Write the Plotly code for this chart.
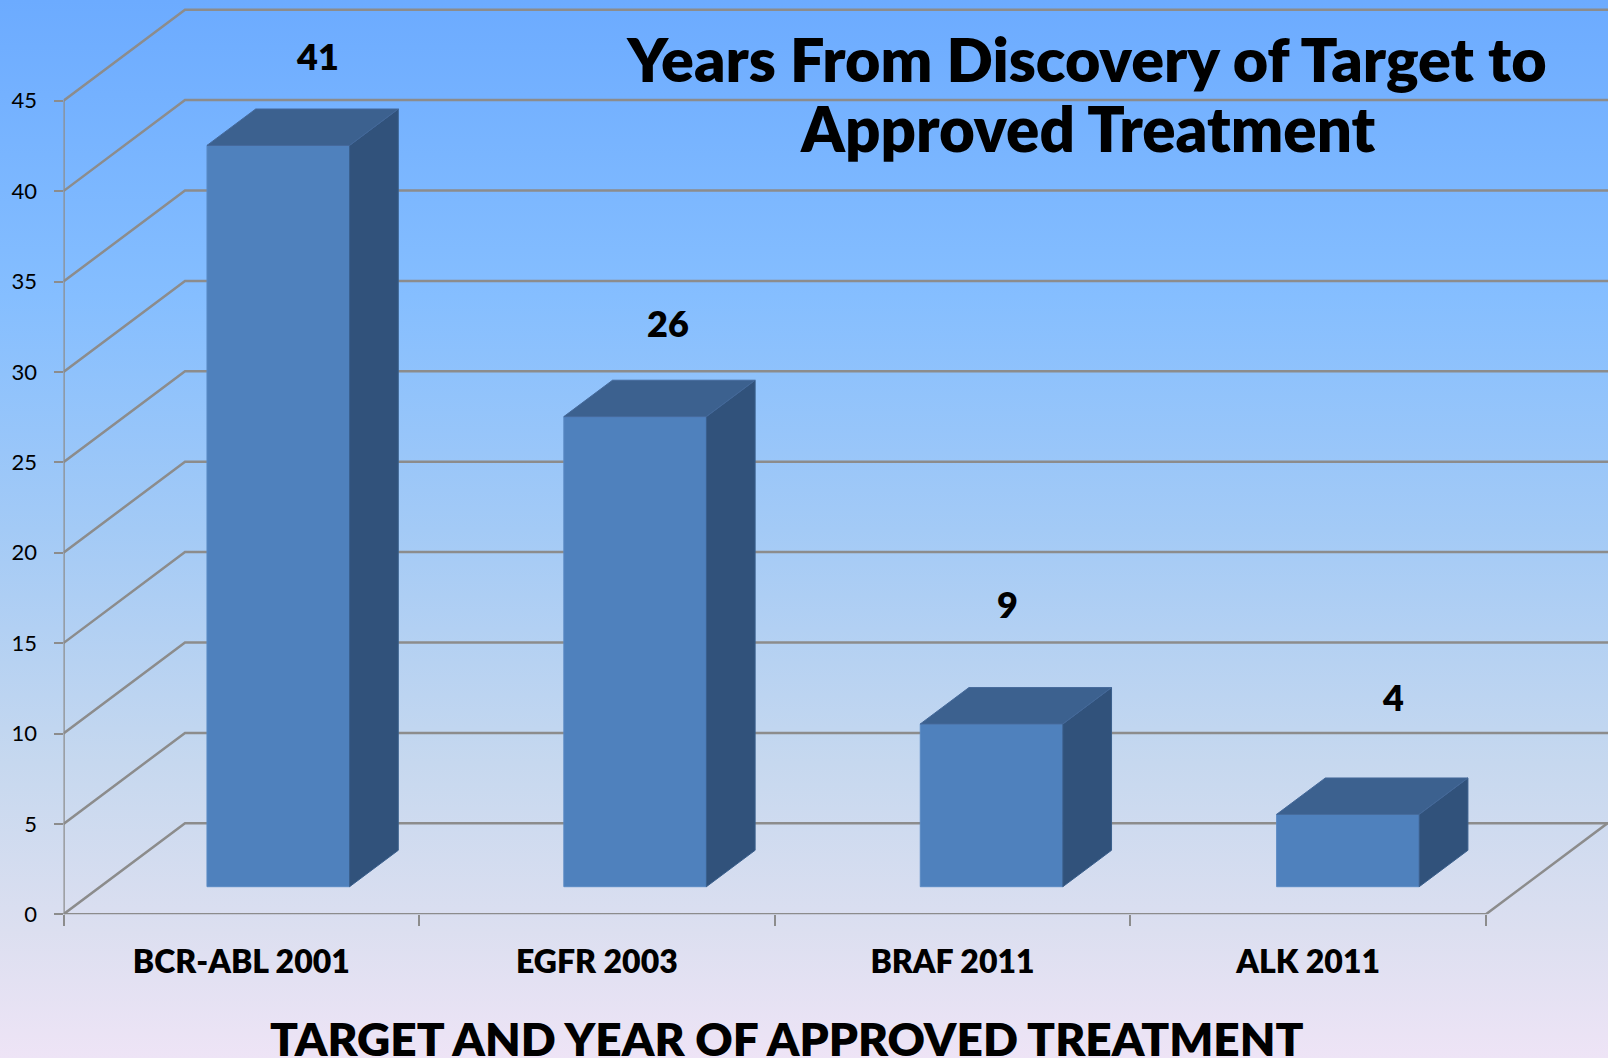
import plotly.graph_objects as go

categories = ["BCR-ABL 2001", "EGFR 2003", "BRAF 2011", "ALK 2011"]
years = [41, 26, 9, 4]
y_ticks = [0, 5, 10, 15, 20, 25, 30, 35, 40, 45]
label_shifts = [(39.6, 89), (34.6, 93.6), (17.6, 120), (47.6, 117)]
bar_nudge = [0, 0.0035, 0.0058, 0.0080]

W, H = 1608, 1058
FONT = "Lato"
BOLD = 800
GRID = "#8C8C8C"
FRONT, SIDE, TOP = "#4F81BD", "#31527B", "#3C618F"

# geometry of the pseudo-3D frame, in axis units
PX_X, PX_Y = 355.6, 18.08
X0_PX, Y0_PX, YTOP_PX = 63.5, 914.3, 8.0
WALL_DX, WALL_DY = 121.5 / PX_X, 91 / PX_Y
BAR_W, BAR_OFF, BAR_BASE = 0.401, -0.0965, 1.527
BAR_DX, BAR_DY = 48.7 / PX_X, 36.4 / PX_Y

x_left = -0.5
x_right = x_left + 4
x_range = [x_left, x_left + (W - X0_PX) / PX_X]
y_range = [0, (Y0_PX - YTOP_PX) / PX_Y]
positions = list(range(len(categories)))
offsets = [BAR_OFF + n for n in bar_nudge]

fig = go.Figure()

# page gradient
fig.add_trace(go.Scatter(
    x=[0, 1, 1, 0, 0], y=[0, 0, 1, 1, 0], xaxis="x", yaxis="y", mode="none",
    fill="toself", hoverinfo="skip", showlegend=False,
    fillgradient=dict(type="vertical", start=1, stop=0, colorscale=[
        [0, "#6CABFF"], [0.28, "#85BEFF"], [0.5, "#A3CAF6"],
        [0.72, "#C6D8EF"], [0.88, "#DCDFF0"], [1, "#EEE4F6"]]),
))

# walls and floor
gx, gy = [], []
wall_x = x_left + WALL_DX
for t in y_ticks:
    back = t + WALL_DY
    gx += [x_left, wall_x, x_range[1], None]
    gy += [t, back, back, None]
gx += [x_left, x_left, None, x_left, x_right, x_right + WALL_DX, None]
gy += [y_ticks[0], y_ticks[-1], None, 0, 0, WALL_DY, None]
fig.add_trace(go.Scatter(
    x=gx, y=gy, xaxis="x2", yaxis="y2", mode="lines", cliponaxis=False,
    line=dict(color=GRID, width=2.5), hoverinfo="skip", showlegend=False,
))

# bar front faces
fig.add_trace(go.Bar(
    x=positions, y=years, base=[BAR_BASE] * len(years), xaxis="x3", yaxis="y3",
    width=BAR_W, offset=offsets, marker=dict(color=FRONT, line=dict(color="#5A8AC4", width=1)),
    showlegend=False, hoverinfo="skip",
))

# bar side and top faces derived from the values
for p, v, off in zip(positions, years, offsets):
    xl, xr = p + off, p + off + BAR_W
    yb, yt = BAR_BASE, BAR_BASE + v
    fig.add_trace(go.Scatter(
        x=[xr, xr + BAR_DX, xr + BAR_DX, xr, xr],
        y=[yb, yb + BAR_DY, yt + BAR_DY, yt, yb],
        xaxis="x3", yaxis="y3", mode="lines", fill="toself", fillcolor=SIDE,
        line=dict(color="#3A5F8C", width=1), hoverinfo="skip", showlegend=False,
    ))
    fig.add_trace(go.Scatter(
        x=[xl, xr, xr + BAR_DX, xl + BAR_DX, xl],
        y=[yt, yt, yt + BAR_DY, yt + BAR_DY, yt],
        xaxis="x3", yaxis="y3", mode="lines", fill="toself", fillcolor=TOP,
        line=dict(color="#45699A", width=1), hoverinfo="skip", showlegend=False,
    ))

annotations = [
    dict(x=p + BAR_OFF + BAR_W / 2, y=BAR_BASE + v, xref="x3", yref="y3", text=str(v),
         showarrow=False, xshift=sx, yshift=sy, xanchor="center", yanchor="middle",
         font=dict(family=FONT, size=36, color="#000000", weight=BOLD))
    for p, v, (sx, sy) in zip(positions, years, label_shifts)
]
annotations.append(dict(
    x=1087 / W, y=1 - 128 / H, xref="paper", yref="paper", text="Approved Treatment",
    showarrow=False, xanchor="center", yanchor="middle",
    font=dict(family=FONT, size=61.8, color="#000000", weight=BOLD)))
annotations.append(dict(
    x=786 / W, y=1 - 1038 / H, xref="paper", yref="paper",
    text="TARGET AND YEAR OF APPROVED TREATMENT",
    showarrow=False, xanchor="center", yanchor="middle",
    font=dict(family=FONT, size=46, color="#000000", weight=BOLD)))

fig.update_layout(
    width=W, height=H, autosize=False,
    margin=dict(l=0, r=0, t=0, b=0, pad=0, autoexpand=False),
    paper_bgcolor="#DCE6F4", plot_bgcolor="rgba(0,0,0,0)", showlegend=False,
    font=dict(family=FONT, color="#000000"), annotations=annotations,
    title=dict(
        text="Years From Discovery of Target to",
        x=1087 / W, xanchor="center", y=1 - 61 / H, yanchor="middle", automargin=False,
        font=dict(family=FONT, size=61, color="#000000", weight=BOLD),
    ),
    xaxis=dict(domain=[0, 1], range=[0, 1], visible=False, fixedrange=True),
    yaxis=dict(domain=[0, 1], range=[0, 1], visible=False, fixedrange=True),
    xaxis2=dict(
        domain=[X0_PX / W, 1], range=x_range, anchor="y2", showgrid=False, zeroline=False,
        tickmode="array", tickvals=positions, ticktext=categories, ticks="",
        ticklabelstandoff=26, tickfont=dict(family=FONT, size=32, weight=BOLD),
        minor=dict(tickmode="array", tickvals=[x_left + i for i in range(len(categories) + 1)],
                   ticks="outside", ticklen=11, tickwidth=2, tickcolor=GRID, showgrid=False),
    ),
    yaxis2=dict(
        domain=[(H - Y0_PX) / H, (H - YTOP_PX) / H], range=y_range, anchor="x2",
        showgrid=False, zeroline=False, tickmode="array", tickvals=y_ticks,
        ticks="outside", ticklen=9, tickwidth=2, tickcolor=GRID, ticklabelstandoff=12,
        tickfont=dict(family=FONT, size=22),
    ),
    xaxis3=dict(overlaying="x2", range=x_range, anchor="y3", visible=False),
    yaxis3=dict(overlaying="y2", range=y_range, anchor="x3", visible=False),
)

fig.write_html("out.html", config=dict(displayModeBar=False),
               post_script="document.body.style.margin='0';")
